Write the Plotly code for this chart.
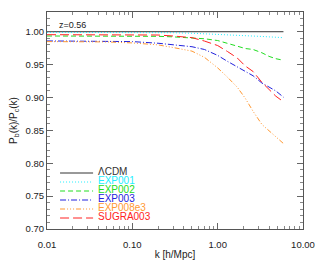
import plotly.graph_objects as go

# ---- data ----
k = [0.01, 0.02, 0.05, 0.1, 0.2, 0.3, 0.5, 0.7, 1.0, 1.3, 1.7, 2.1, 2.6, 3.3, 4.0, 4.8, 5.9]
lcdm = [1.0] * len(k)
exp001 = [0.9990, 0.9990, 0.9990, 0.9990, 0.9988, 0.9985, 0.9977, 0.9970, 0.9963, 0.9955,
          0.9948, 0.9942, 0.9935, 0.9928, 0.9922, 0.9917, 0.9910]
exp002 = [0.9935, 0.9935, 0.9934, 0.9932, 0.9930, 0.9922, 0.9908, 0.9893, 0.9866, 0.9828,
          0.9780, 0.9745, 0.9730, 0.9680, 0.9625, 0.9590, 0.9566]
exp003 = [0.9860, 0.9860, 0.9858, 0.9850, 0.9825, 0.9800, 0.9772, 0.9730, 0.9640, 0.9550,
          0.9460, 0.9390, 0.9330, 0.9220, 0.9160, 0.9100, 0.9005]
exp008e3 = [0.9850, 0.9850, 0.9845, 0.9830, 0.9800, 0.9760, 0.9705, 0.9610, 0.9450, 0.9310,
            0.9155, 0.8990, 0.8790, 0.8590, 0.8490, 0.8400, 0.8300]
sugra003 = [0.9955, 0.9955, 0.9954, 0.9953, 0.9950, 0.9935, 0.9910, 0.9858, 0.9790, 0.9700,
            0.9600, 0.9480, 0.9395, 0.9230, 0.9120, 0.9020, 0.8935]

names = ["\u039bCDM", "EXP001", "EXP002", "EXP003", "EXP008e3", "SUGRA003"]
series = [lcdm, exp001, exp002, exp003, exp008e3, sugra003]
colors = ["#333333", "#22EEFF", "#22DD22", "#2222DD", "#FF9933", "#FF2222"]
dashes = ["solid", "1px,2px", "5px,3px", "6px,2px,1px,2px",
          "5px,2px,1px,2px,1px,2px,1px,2px", "9px,4px"]

y_ticks = [0.70, 0.75, 0.80, 0.85, 0.90, 0.95, 1.00]
x_ticks = [0.01, 0.1, 1.0, 10.0]
x_ticktext = ["0.01", "0.10", "1.00", "10.00"]
x_minor = [m * d for d in [0.01, 0.1, 1.0] for m in range(2, 10)]

FONT = "Liberation Sans, Arial, Helvetica, sans-serif"

fig = go.Figure()
for name, vals, col, dsh in zip(names, series, colors, dashes):
    fig.add_trace(go.Scatter(x=k, y=vals, mode="lines", name=name,
                             line=dict(color=col, width=1, dash=dsh),
                             showlegend=False, hoverinfo="skip"))

# manual compact legend (paper coordinates)
leg_x0, leg_x1, leg_tx = 0.051, 0.180, 0.192
row0_px, row_step_px, plot_bottom_px, plot_h_px = 171.5, 9.0, 229.0, 217.0
shapes = []
annotations = []
for i, (name, col, dsh) in enumerate(zip(names, colors, dashes)):
    ypx = row0_px + i * row_step_px
    yp = (plot_bottom_px - ypx - 1.5) / plot_h_px
    yt = (plot_bottom_px - ypx) / plot_h_px
    shapes.append(dict(type="line", xref="paper", yref="paper", x0=leg_x0, x1=leg_x1,
                       y0=yp, y1=yp, line=dict(color=col, width=1, dash=dsh)))
    annotations.append(dict(xref="paper", yref="paper", x=leg_tx, y=yt, text=name,
                            showarrow=False, xanchor="left", yanchor="middle",
                            font=dict(family=FONT, size=10, color=col)))

annotations.append(dict(xref="paper", yref="paper", x=0.040, y=0.94, text="z=0.56",
                        showarrow=False, xanchor="left", yanchor="middle",
                        font=dict(family=FONT, size=9, color="#222222")))

fig.update_layout(
    template="none",
    width=319, height=266,
    margin=dict(l=47, r=16, t=12, b=37, pad=0, autoexpand=False),
    paper_bgcolor="white", plot_bgcolor="white",
    font=dict(family=FONT, size=10, color="#222222"),
    shapes=shapes, annotations=annotations,
    showlegend=False,
)
fig.update_xaxes(
    type="log", range=[-2, 1], automargin=False,
    tickmode="array", tickvals=x_ticks, ticktext=x_ticktext,
    ticks="inside", ticklen=6, tickcolor="#666666", tickwidth=1,
    minor=dict(tickmode="array", tickvals=x_minor, ticks="inside", ticklen=3,
               tickcolor="#888888", showgrid=False),
    showline=True, linecolor="#555555", linewidth=1, mirror="allticks",
    showgrid=False, zeroline=False,
    ticklabelstandoff=7, ticklabeloverflow="allow",
    tickfont=dict(size=9.5, family=FONT, color="#222222"),
    title=dict(text="k [h/Mpc]", standoff=1, font=dict(size=10, family=FONT, color="#222222")),
)
fig.update_yaxes(
    range=[0.70, 1.03], automargin=False,
    tickmode="array", tickvals=y_ticks, tickformat=".2f",
    ticks="inside", ticklen=6, tickcolor="#666666", tickwidth=1,
    minor=dict(dtick=0.01, tick0=0.70, ticks="inside", ticklen=3,
               tickcolor="#888888", showgrid=False),
    showline=True, linecolor="#555555", linewidth=1, mirror="allticks",
    showgrid=False, zeroline=False,
    tickfont=dict(size=9.5, family=FONT, color="#222222"),
    title=dict(text="P<sub>b</sub>(k)/P<sub>c</sub>(k)", standoff=6,
               font=dict(size=10, family=FONT, color="#222222")),
)

fig.write_html("out.html",
               config={"displayModeBar": False, "staticPlot": True},
               post_script="document.body.style.margin='0';document.body.style.overflow='hidden';")
